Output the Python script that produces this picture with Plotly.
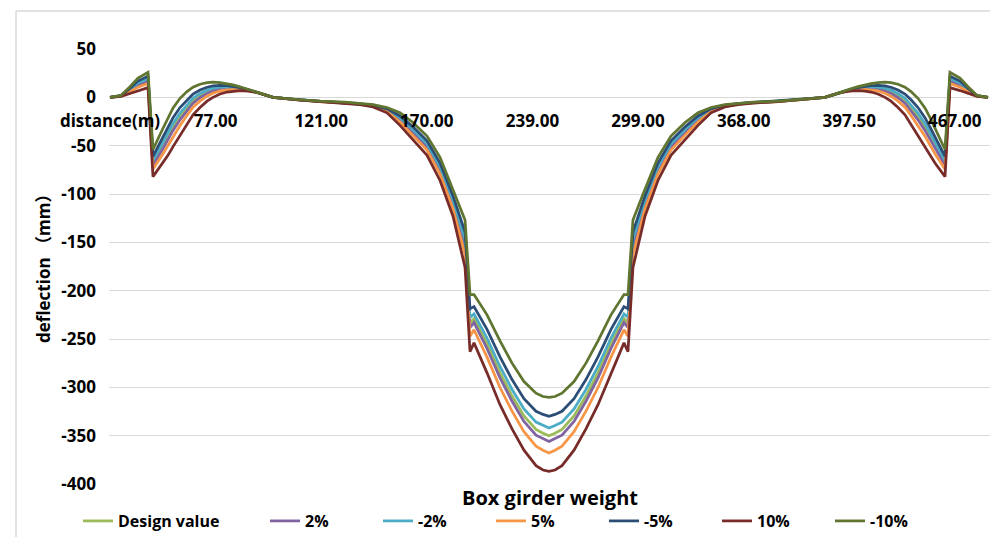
import plotly.graph_objects as go

# Category position along the girder (index units; a tick label every 10 positions)
position = ([0.00, 1.04, 1.89, 2.65, 3.60, 4.07, 5.02, 5.49, 5.97, 6.63, 7.29, 7.86, 8.52, 9.19, 9.75,
             10.42, 11.08, 11.65, 12.31, 13.07, 13.92, 14.68, 15.44, 17.99, 19.89, 22.25, 23.67, 24.91,
             26.23, 27.46, 28.69, 30.02, 31.25, 32.48, 33.62, 34.09, 34.47, 35.70, 36.93, 38.07, 39.20,
             40.34, 41.00, 41.57]
            + [42.14, 42.80, 43.94, 45.07, 46.21, 47.44, 48.67, 49.05, 49.52, 50.66, 51.89, 53.12, 54.45,
               55.68, 56.91, 58.23, 59.47, 60.89, 63.25, 65.15, 67.70, 68.46, 69.22, 70.07, 70.83, 71.49,
               72.06, 72.72, 73.39, 73.95, 74.62, 75.28, 75.85, 76.51, 77.17, 77.65, 78.12, 79.07, 79.54,
               80.49, 81.25, 82.10, 83.14])

tick_positions = [0, 10, 20, 30, 40, 50, 60, 70, 80]
tick_labels = ["distance(m)", "77.00", "121.00", "170.00", "239.00", "299.00", "368.00", "397.50", "467.00"]
y_tick_values = [50, 0, -50, -100, -150, -200, -250, -300, -350, -400]
y_tick_labels = ["50", "0", "-50", "-100", "-150", "-200", "-250", "-300", "-350", "-400"]

series_names = ["Design value", "2%", "-2%", "5%", "-5%", "10%", "-10%"]
series_colors = ["#9BBB59", "#8064A2", "#4BACC6", "#F79646", "#2C4D75", "#772C2A", "#5F7530"]

design_value = ([0, 1.5, 7.5, 13.5, 18, -68, -50, -40.5, -31, -20.3, -11, -3.8, 1.5, 5.6, 7.9, 9.4, 9.9,
                 9.7, 9, 7.5, 5.3, 2.5, 0, -2.7, -4.3, -5.5, -6.8, -8.8, -13.3, -22.5, -35, -50, -74, -109,
                 -151.5, -233.5, -229, -255, -285, -309, -329.5, -343.5, -347.5, -350]
                + [-347.5, -343.5, -329.5, -309, -285, -255, -229, -233.5, -151.5, -109, -74, -50, -35,
                   -22.5, -13.3, -8.8, -6.8, -5.5, -4.3, -2.7, 0, 2.5, 5.3, 7.5, 9, 9.7, 9.9, 9.4, 7.9,
                   5.6, 1.5, -3.8, -11, -20.3, -31, -40.5, -50, -68, 18, 13.5, 7.5, 1.5, 0])

plus_2 = ([0, 1.4, 6.9, 12.5, 16.7, -70.2, -52.9, -43.6, -34.2, -23.3, -13.7, -6, -0.4, 4.1, 6.6, 8.5, 9.2,
           9.1, 8.7, 7.3, 5.2, 2.5, 0, -2.7, -4.3, -5.6, -6.9, -9, -13.7, -23.5, -36.4, -51.6, -75.9, -111.2,
           -155.4, -238.2, -233, -259.8, -290.3, -314.4, -335.2, -349.5, -353, -356]
          + [-353, -349.5, -335.2, -314.4, -290.3, -259.8, -233, -238.2, -155.4, -111.2, -75.9, -51.6,
             -36.4, -23.5, -13.7, -9, -6.9, -5.6, -4.3, -2.7, 0, 2.5, 5.2, 7.3, 8.7, 9.1, 9.2, 8.5, 6.6,
             4.1, -0.4, -6, -13.7, -23.3, -34.2, -43.6, -52.9, -70.2, 16.7, 12.5, 6.9, 1.4, 0])

minus_2 = ([0, 1.6, 8.2, 14.8, 19.6, -65.2, -46.4, -36.6, -27, -16.4, -7.6, -0.9, 3.9, 7.5, 9.4, 10.6, 10.7,
            10.3, 9.4, 7.7, 5.3, 2.5, 0, -2.6, -4.2, -5.4, -6.6, -8.5, -12.7, -21.2, -33.2, -48, -71.6,
            -106.2, -146.6, -227.6, -224, -249, -278.4, -302.2, -322.4, -336, -339.5, -342]
           + [-339.5, -336, -322.4, -302.2, -278.4, -249, -224, -227.6, -146.6, -106.2, -71.6, -48, -33.2,
              -21.2, -12.7, -8.5, -6.6, -5.4, -4.2, -2.6, 0, 2.5, 5.3, 7.7, 9.4, 10.3, 10.7, 10.6, 9.4,
              7.5, 3.9, -0.9, -7.6, -16.4, -27, -36.6, -46.4, -65.2, 19.6, 14.8, 8.2, 1.6, 0])

plus_5 = ([0, 1.3, 5.9, 10.5, 14.3, -74.4, -58.3, -49.5, -40.2, -29.1, -18.8, -10.3, -4, 1.2, 4.2, 6.7, 7.8,
           8.2, 8.1, 7, 5.1, 2.5, 0, -2.7, -4.4, -5.7, -7.1, -9.3, -14.5, -25.5, -39.1, -54.6, -79.5,
           -115.4, -162.8, -247.1, -240.5, -268.8, -300.2, -324.6, -345.8, -360.8, -365, -368]
          + [-365, -360.8, -345.8, -324.6, -300.2, -268.8, -240.5, -247.1, -162.8, -115.4, -79.5, -54.6,
             -39.1, -25.5, -14.5, -9.3, -7.1, -5.7, -4.4, -2.7, 0, 2.5, 5.1, 7, 8.1, 8.2, 7.8, 6.7, 4.2,
             1.2, -4, -10.3, -18.8, -29.1, -40.2, -49.5, -58.3, -74.4, 14.3, 10.5, 5.9, 1.3, 0])

minus_5 = ([0, 1.8, 9.3, 16.8, 22, -61, -41, -30.8, -21, -10.6, -2.5, 3.4, 7.5, 10.4, 11.8, 12.4, 12, 11.2,
            10, 8, 5.4, 2.5, 0, -2.6, -4.1, -5.3, -6.4, -8.1, -11.9, -19.3, -30.5, -45, -68, -102, -139.3,
            -218.8, -216.5, -240, -268.5, -292, -311.8, -324.8, -328, -330]
           + [-328, -324.8, -311.8, -292, -268.5, -240, -216.5, -218.8, -139.3, -102, -68, -45, -30.5,
              -19.3, -11.9, -8.1, -6.4, -5.3, -4.1, -2.6, 0, 2.5, 5.4, 8, 10, 11.2, 12, 12.4, 11.8, 10.4,
              7.5, 3.4, -2.5, -10.6, -21, -30.8, -41, -61, 22, 16.8, 9.3, 1.8, 0])

plus_10 = ([0, 1, 4, 7, 10, -82, -68, -60, -51, -39.5, -28, -18, -10.5, -4, 0, 3.5, 5.5, 6.5, 7, 6.5, 5,
            2.5, 0, -2.8, -4.5, -6, -7.5, -10, -16, -29, -44, -60, -86, -123, -176, -263, -254, -285,
            -318, -343, -365, -381, -385.5, -387]
           + [-385.5, -381, -365, -343, -318, -285, -254, -263, -176, -123, -86, -60, -44, -29, -16, -10,
              -7.5, -6, -4.5, -2.8, 0, 2.5, 5, 6.5, 7, 6.5, 5.5, 3.5, 0, -4, -10.5, -18, -28, -39.5, -51,
              -60, -68, -82, 10, 7, 4, 1, 0])

minus_10 = ([0, 2, 11, 20, 26, -54, -32, -21, -11, -1, 6, 10.5, 13.5, 15.2, 15.7, 15.3, 14.2, 12.8, 11,
             8.5, 5.5, 2.5, 0, -2.5, -4, -5, -6, -7.5, -10.5, -16, -26, -40, -62, -95, -127, -204, -204,
             -225, -252, -275, -294, -306, -309.5, -310.5]
            + [-309.5, -306, -294, -275, -252, -225, -204, -204, -127, -95, -62, -40, -26, -16, -10.5,
               -7.5, -6, -5, -4, -2.5, 0, 2.5, 5.5, 8.5, 11, 12.8, 14.2, 15.3, 15.7, 15.2, 13.5, 10.5, 6,
               -1, -11, -21, -32, -54, 26, 20, 11, 2, 0])

all_series = [design_value, plus_2, minus_2, plus_5, minus_5, plus_10, minus_10]

FONT = "Open Sans, Noto Sans CJK SC"
W, H = 990, 529          # page body has an 8px margin
ML, MR, MT, MB = 101, 8, 41, 53
PW, PH = W - ML - MR, H - MT - MB

fig = go.Figure()
for i, (name, color, ys) in enumerate(zip(series_names, series_colors, all_series)):
    fig.add_trace(go.Scatter(
        x=position, y=ys, name=name, mode="lines",
        line=dict(color=color, width=2.75),
        legend="legend" if i == 0 else "legend2",
    ))

fig.update_layout(
    width=W, height=H,
    margin=dict(l=ML, r=MR, t=MT, b=MB, autoexpand=False),
    paper_bgcolor="white", plot_bgcolor="white",
    font=dict(family=FONT, size=15, color="#000000", weight="bold"),
    showlegend=True,
    legend=dict(orientation="h", xref="container", yref="container",
                x=70 / W, y=1 - 513 / H, xanchor="left", yanchor="middle",
                font=dict(family=FONT, size=16, weight="bold"), bgcolor="rgba(0,0,0,0)"),
    legend2=dict(orientation="h", xref="container", yref="container",
                 x=257 / W, y=1 - 513 / H, xanchor="left", yanchor="middle",
                 entrywidthmode="pixels", entrywidth=68, itemwidth=30,
                 font=dict(family=FONT, size=16, weight="bold"), bgcolor="rgba(0,0,0,0)"),
    xaxis=dict(range=[-0.095, 83.33], tickmode="array", tickvals=tick_positions, ticktext=tick_labels,
               showgrid=False, zeroline=False, showline=False, ticks="",
               anchor="free", position=400 / 450, automargin=False, ticklabelstandoff=12,
               tickfont=dict(family=FONT, size=17, weight="bold", color="#000000")),
    yaxis=dict(range=[-400, 50], tickmode="array", tickvals=y_tick_values, ticktext=y_tick_labels,
               showgrid=True, gridcolor="#D9D9D9", gridwidth=1,
               zeroline=False, showline=False, ticks="", automargin=False, ticklabelstandoff=12,
               tickfont=dict(family=FONT, size=17, weight="bold", color="#000000")),
    annotations=[
        dict(text="deflection （mm）", xref="paper", yref="paper", x=(35 - ML) / PW,
             y=(MT + PH - 257) / PH,
             textangle=-90, showarrow=False, xanchor="center", yanchor="middle",
             font=dict(family=FONT, size=17, weight="bold", color="#000000")),
        dict(text="Box girder weight", xref="paper", yref="paper", x=0.5, y=(MT + PH - 489) / PH,
             showarrow=False, xanchor="center", yanchor="middle",
             font=dict(family=FONT, size=20, weight="bold", color="#000000")),
    ],
    shapes=[
        dict(type="line", xref="paper", yref="paper", x0=(8 - ML) / PW, x1=(8 - ML) / PW,
             y0=(MT + PH - 3) / PH, y1=(MT + PH - 540) / PH, line=dict(color="#D9D9D9", width=1.5)),
        dict(type="line", xref="paper", yref="paper", x0=(8 - ML) / PW, x1=(1000 - ML) / PW,
             y0=(MT + PH - 3) / PH, y1=(MT + PH - 3) / PH, line=dict(color="#D9D9D9", width=1.5)),
    ],
)

fig.write_html("out.html")
